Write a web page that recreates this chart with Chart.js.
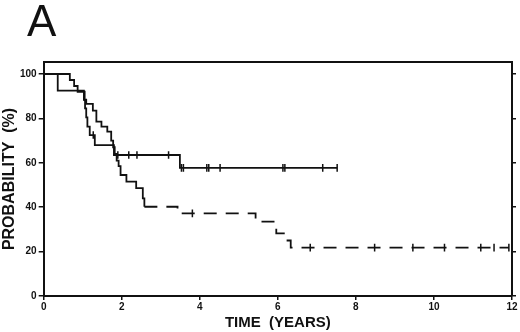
<!DOCTYPE html>
<html>
<head>
<meta charset="utf-8">
<script src="https://cdn.jsdelivr.net/npm/chart.js@4.4.1/dist/chart.umd.min.js"></script>
<style>
    html, body { margin: 0; padding: 0; background: #fff; }
    canvas { display: block; }
</style>
</head>
<body>
<canvas id="graficoSupervivencia" width="520" height="332"></canvas>
<script>
// ===================================== Datos ==================
// Curva con meseta (línea continua)
var tiemposA = [0, 0.36, 1.03, 1.06, 1.09, 1.12, 1.18, 1.31, 1.80, 3.49, 7.52];
var probA    = [100, 92.5, 88.3, 84.5, 80.5, 76.3, 72.5, 68, 63.5, 57.7, 57.7];
var censurasA = [1.27, 1.90, 2.18, 2.39, 3.20, 3.53, 3.58, 4.18, 4.23, 4.52, 6.13, 6.18, 7.15, 7.52];

// Curva larga (discontinua a partir de ~2.6 años)
var tiemposB = [0, 0.67, 0.78, 0.87, 1.05, 1.09, 1.26, 1.35, 1.48, 1.63, 1.73, 1.78, 1.82, 1.87, 1.92, 1.97, 2.12, 2.37, 2.54, 2.58, 3.43, 5.43, 5.52, 5.96, 6.20, 6.33, 11.92];
var probB    = [100, 97.3, 94.6, 92.0, 88.4, 86.5, 83.5, 78.5, 76.3, 74.0, 70.0, 67.0, 64.0, 61.0, 58.5, 54.5, 51.5, 48.6, 44.0, 40.2, 37.2, 35.3, 33.5, 28.2, 25.0, 21.8, 21.8];
var censurasB = [3.81, 6.83, 8.48, 9.46, 10.27, 11.20, 11.54, 11.92];

var ticksX = [0, 2, 4, 6, 8, 10, 12];
var ticksY = [0, 20, 40, 60, 80, 100];

var COLOR = "#111";
var FUENTE = "'Liberation Sans', Arial, Helvetica, sans-serif";


// ===================================== Helpers ==================
function puntos(tiempos, probs) {
    return tiempos.map((t, i) => ({ x: t, y: probs[i] }));
}

// nivel de la curva escalonada en el tiempo t
function nivelEn(tiempos, probs, t) {
    var v = probs[0];
    for (var i = 0; i < tiempos.length; i++) {
        if (tiempos[i] <= t) v = probs[i];
    }
    return v;
}

function marcas(censuras, tiempos, probs) {
    return censuras.map(t => ({ x: t, y: nivelEn(tiempos, probs, t) }));
}

function fijarTicks(lista) {
    return function (scale) {
        scale.ticks = lista.map(v => ({ value: v }));
    };
}


// ===================================== Letra del panel ==================
var letraPanel = {
    id: 'letraPanel',
    afterDraw(chart) {
        const ctx = chart.ctx;
        ctx.save();
        ctx.fillStyle = COLOR;
        ctx.font = "44px " + FUENTE;
        ctx.textBaseline = 'alphabetic';
        ctx.fillText('A', 27, 36);
        ctx.restore();
    }
};


// ===================================== Gráfico ==================
Chart.defaults.font.family = FUENTE;
Chart.defaults.color = COLOR;

new Chart(document.getElementById("graficoSupervivencia"), {
    type: 'line',
    data: {
        datasets: [
            {
                data: puntos(tiemposA, probA),
                borderColor: COLOR,
                borderWidth: 1.8,
                stepped: true,
                pointRadius: 0,
                fill: false
            },
            {
                data: puntos(tiemposB, probB),
                borderColor: COLOR,
                borderWidth: 1.8,
                stepped: true,
                pointRadius: 0,
                fill: false,
                segment: {
                    borderDash: ctx => ctx.p0.parsed.x >= 2.56 ? [13, 9] : undefined
                }
            },
            {
                data: marcas(censurasA, tiemposA, probA),
                showLine: false,
                pointStyle: 'line',
                rotation: 90,
                pointRadius: 3.8,
                pointBorderWidth: 1.5,
                pointBorderColor: COLOR
            },
            {
                data: marcas(censurasB, tiemposB, probB),
                showLine: false,
                pointStyle: 'line',
                rotation: 90,
                pointRadius: 3.8,
                pointBorderWidth: 1.5,
                pointBorderColor: COLOR
            }
        ]
    },
    options: {
        responsive: false,
        animation: false,
        layout: { padding: { top: 62, left: 2, right: 4, bottom: 0 } },
        plugins: {
            legend: { display: false },
            tooltip: { enabled: false }
        },
        scales: {
            x: {
                type: 'linear',
                position: 'bottom',
                min: 0,
                max: 12,
                afterBuildTicks: fijarTicks(ticksX),
                grid: { drawOnChartArea: false, tickLength: 4, color: COLOR, lineWidth: 1.5 },
                border: { color: COLOR, width: 2 },
                ticks: { font: { size: 10, weight: 'bold' }, padding: 1, maxRotation: 0 },
                title: {
                    display: true,
                    text: 'TIME  (YEARS)',
                    font: { size: 15, weight: 'bold' },
                    padding: { top: 0, bottom: 0 }
                }
            },
            y: {
                type: 'linear',
                position: 'left',
                min: 0,
                max: 105.4,
                afterBuildTicks: fijarTicks(ticksY),
                grid: { drawOnChartArea: false, tickLength: 5, color: COLOR, lineWidth: 1.5 },
                border: { color: COLOR, width: 2 },
                ticks: { font: { size: 10, weight: 'bold' }, padding: 2 },
                title: {
                    display: true,
                    text: 'PROBABILITY  (%)',
                    font: { size: 16, weight: 'bold', lineHeight: 1 },
                    padding: { top: 0, bottom: 0 }
                }
            },
            xTop: {
                type: 'linear',
                position: 'top',
                min: 0,
                max: 12,
                grid: { display: false, drawTicks: false },
                border: { color: COLOR, width: 2 },
                ticks: { display: false }
            },
            yRight: {
                type: 'linear',
                position: 'right',
                min: 0,
                max: 105.4,
                afterBuildTicks: fijarTicks(ticksY),
                grid: { drawOnChartArea: false, tickLength: 4, color: COLOR, lineWidth: 1.5 },
                border: { color: COLOR, width: 2 },
                ticks: { display: false }
            }
        }
    },
    plugins: [letraPanel]
});
</script>
</body>
</html>
